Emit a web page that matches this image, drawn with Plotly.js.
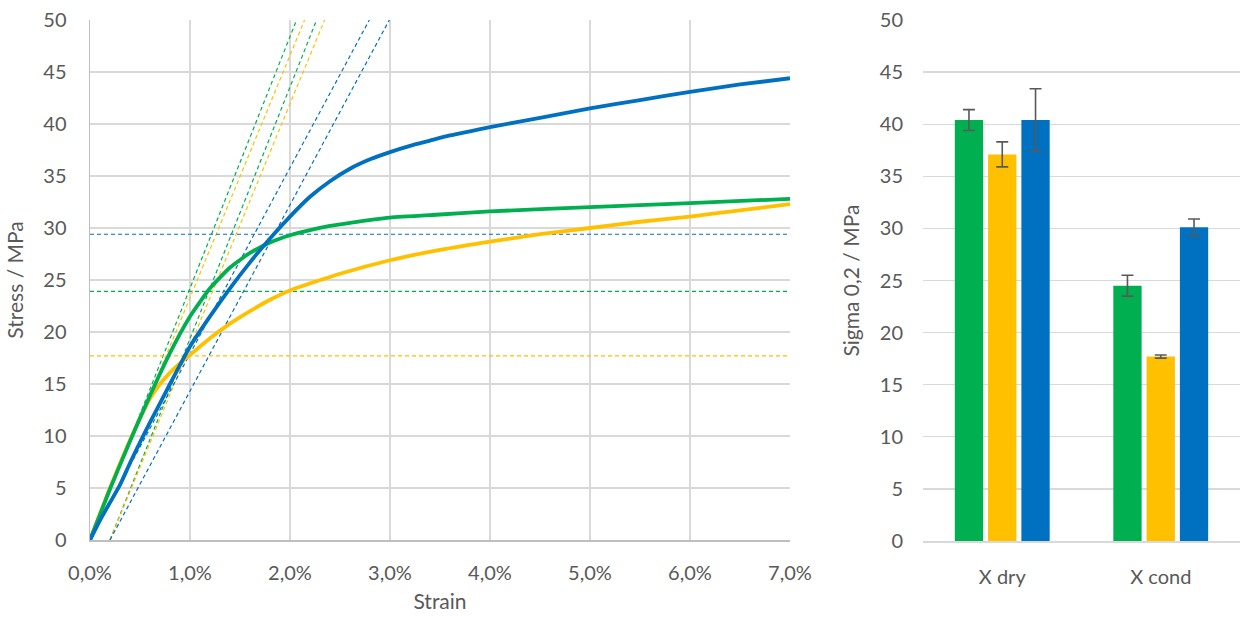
<!DOCTYPE html>
<html>
<head>
<meta charset="utf-8">
<script src="https://cdn.plot.ly/plotly-3.0.1.min.js"></script>
<style>html,body{margin:0;padding:0;background:#fff;}#chart{width:1245px;height:617px;}</style>
</head>
<body>
<div id="chart"></div>
<script>
// ---- Stress-strain curves (strain in %, stress in MPa) ----
const blueStrain  = [0,0.1,0.2,0.3,0.4,0.5,0.6,0.8,1.0,1.2,1.4,1.6,1.8,2.0,2.2,2.4,2.6,2.8,3.0,3.2,3.4,3.6,3.8,4.0,4.5,5.0,5.5,6.0,6.5,7.0];
const blueStress  = [0,1.9,3.6,5.3,7.4,9.4,11.3,15.0,18.6,21.5,24.2,26.7,29.0,31.1,33.0,34.5,35.7,36.6,37.3,37.9,38.4,38.9,39.3,39.7,40.6,41.5,42.3,43.1,43.8,44.4];
const greenStrain = [0,0.2,0.4,0.6,0.8,1.0,1.2,1.4,1.6,1.8,2.0,2.2,2.4,2.6,3.0,3.5,4.0,5.0,6.0,7.0];
const greenStress = [0,4.9,9.5,13.9,18.0,21.5,24.2,26.2,27.6,28.6,29.3,29.8,30.2,30.5,31.0,31.3,31.6,32.0,32.4,32.8];
const yellowStrain = [0,0.2,0.4,0.6,0.7,0.8,0.9,1.0,1.2,1.4,1.6,1.8,2.0,2.5,3.0,3.5,4.0,4.5,5.0,5.5,6.0,6.5,7.0];
const yellowStress = [0,5.0,9.6,13.6,15.0,16.1,17.0,17.8,19.4,20.8,22.0,23.1,24.0,25.6,26.9,27.9,28.7,29.4,30.0,30.6,31.1,31.7,32.3];

// Elastic moduli (MPa per % strain) and 0.2% offset yield levels (MPa)
const seriesNames = ["green", "yellow", "blue"];
const moduli      = [24.2, 23.3, 17.9];
const yieldLevels = [23.9, 17.7, 29.4];
const offsetStrain = 0.2;   // %

// ---- Bar chart: Sigma 0,2 ----
const barCategories = ["X dry", "X cond"];
const greenBar  = [40.4, 24.5];
const greenErr  = [1.0, 1.0];
const yellowBar = [37.1, 17.7];
const yellowErr = [1.2, 0.15];
const blueBar   = [40.4, 30.1];
const blueErr   = [3.0, 0.8];

const colors = {green: "#00B050", yellow: "#FFC000", blue: "#0070C0"};
const txt = "#595959";
const grid = "#D9D9D9";
const font = "Lato, 'Open Sans', sans-serif";
const YMAX = 50, XMAX = 7;

const pct = a => a.map(v => v / 100);
const traces = [];

// dashed construction lines
seriesNames.forEach((s, i) => {
  const E = moduli[i];
  const xEnd1 = YMAX / E;
  const xEnd2 = offsetStrain + YMAX / E;
  const ln = {color: colors[s], width: 1.2, dash: "4px,3px"};
  traces.push({x: pct([0, xEnd1]), y: [0, YMAX], mode: "lines", line: ln, xaxis: "x", yaxis: "y", hoverinfo: "skip"});
  traces.push({x: pct([offsetStrain, xEnd2]), y: [0, YMAX], mode: "lines", line: ln, xaxis: "x", yaxis: "y", hoverinfo: "skip"});
  traces.push({x: pct([0, XMAX]), y: [yieldLevels[i], yieldLevels[i]], mode: "lines", line: ln, xaxis: "x", yaxis: "y", hoverinfo: "skip"});
});

// curves
const curve = c => ({color: c, width: 3.8, shape: "spline", smoothing: 0.5});
traces.push({x: pct(yellowStrain), y: yellowStress, mode: "lines", line: curve(colors.yellow), xaxis: "x", yaxis: "y"});
traces.push({x: pct(greenStrain), y: greenStress, mode: "lines", line: curve(colors.green), xaxis: "x", yaxis: "y"});
traces.push({x: pct(blueStrain), y: blueStress, mode: "lines", line: curve(colors.blue), xaxis: "x", yaxis: "y"});

// bars
const errStyle = {type: "data", visible: true, color: txt, thickness: 1.6, width: 6};
traces.push({type: "bar", x: barCategories, y: greenBar, marker: {color: colors.green}, error_y: Object.assign({array: greenErr}, errStyle), xaxis: "x2", yaxis: "y2"});
traces.push({type: "bar", x: barCategories, y: yellowBar, marker: {color: colors.yellow}, error_y: Object.assign({array: yellowErr}, errStyle), xaxis: "x2", yaxis: "y2"});
traces.push({type: "bar", x: barCategories, y: blueBar, marker: {color: colors.blue}, error_y: Object.assign({array: blueErr}, errStyle), xaxis: "x2", yaxis: "y2"});

const tickFont = {family: font, size: 20, color: txt};
const titleFont = {family: font, size: 21, color: txt};

const layout = {
  width: 1245, height: 617,
  margin: {l: 0, r: 0, t: 0, b: 0},
  paper_bgcolor: "#fff", plot_bgcolor: "#fff",
  showlegend: false,
  separators: ", ",
  barmode: "group", bargap: 0.37, bargroupgap: 0.15,
  xaxis: {
    domain: [90/1245, 790/1245], range: [0, XMAX/100], tickformat: ".1%", dtick: 0.01,
    showgrid: true, gridcolor: grid, gridwidth: 1.3, zeroline: false,
    showline: true, linecolor: "#BFBFBF", linewidth: 1.5,
    ticks: "", tickfont: tickFont, anchor: "y", ticklabelstandoff: 14,
    title: {text: "Strain", font: titleFont, standoff: 12}
  },
  yaxis: {
    domain: [1 - 540/617, 1 - 20/617], range: [0, YMAX], dtick: 5,
    showgrid: true, gridcolor: grid, gridwidth: 1.3, zeroline: false,
    showline: true, linecolor: "#BFBFBF", linewidth: 1.5,
    ticks: "", tickfont: tickFont, anchor: "x", ticklabelstandoff: 18,
    title: {text: "Stress / MPa", font: titleFont, standoff: 14}
  },
  xaxis2: {
    domain: [923/1245, 1240/1245], anchor: "y2", type: "category",
    showgrid: false, zeroline: false, showline: true, linecolor: grid, linewidth: 1.5,
    ticks: "", tickfont: tickFont, ticklabelstandoff: 17
  },
  yaxis2: {
    domain: [1 - 541/617, 1 - 20/617], anchor: "x2", range: [0, YMAX], dtick: 5,
    showgrid: true, gridcolor: grid, gridwidth: 1.3, zeroline: false, showline: false,
    ticks: "", tickfont: tickFont, ticklabelstandoff: 19,
    title: {text: "Sigma 0,2 / MPa", font: titleFont, standoff: 14}
  }
};

Plotly.newPlot("chart", traces, layout, {staticPlot: true, displayModeBar: false});
</script>
</body>
</html>
